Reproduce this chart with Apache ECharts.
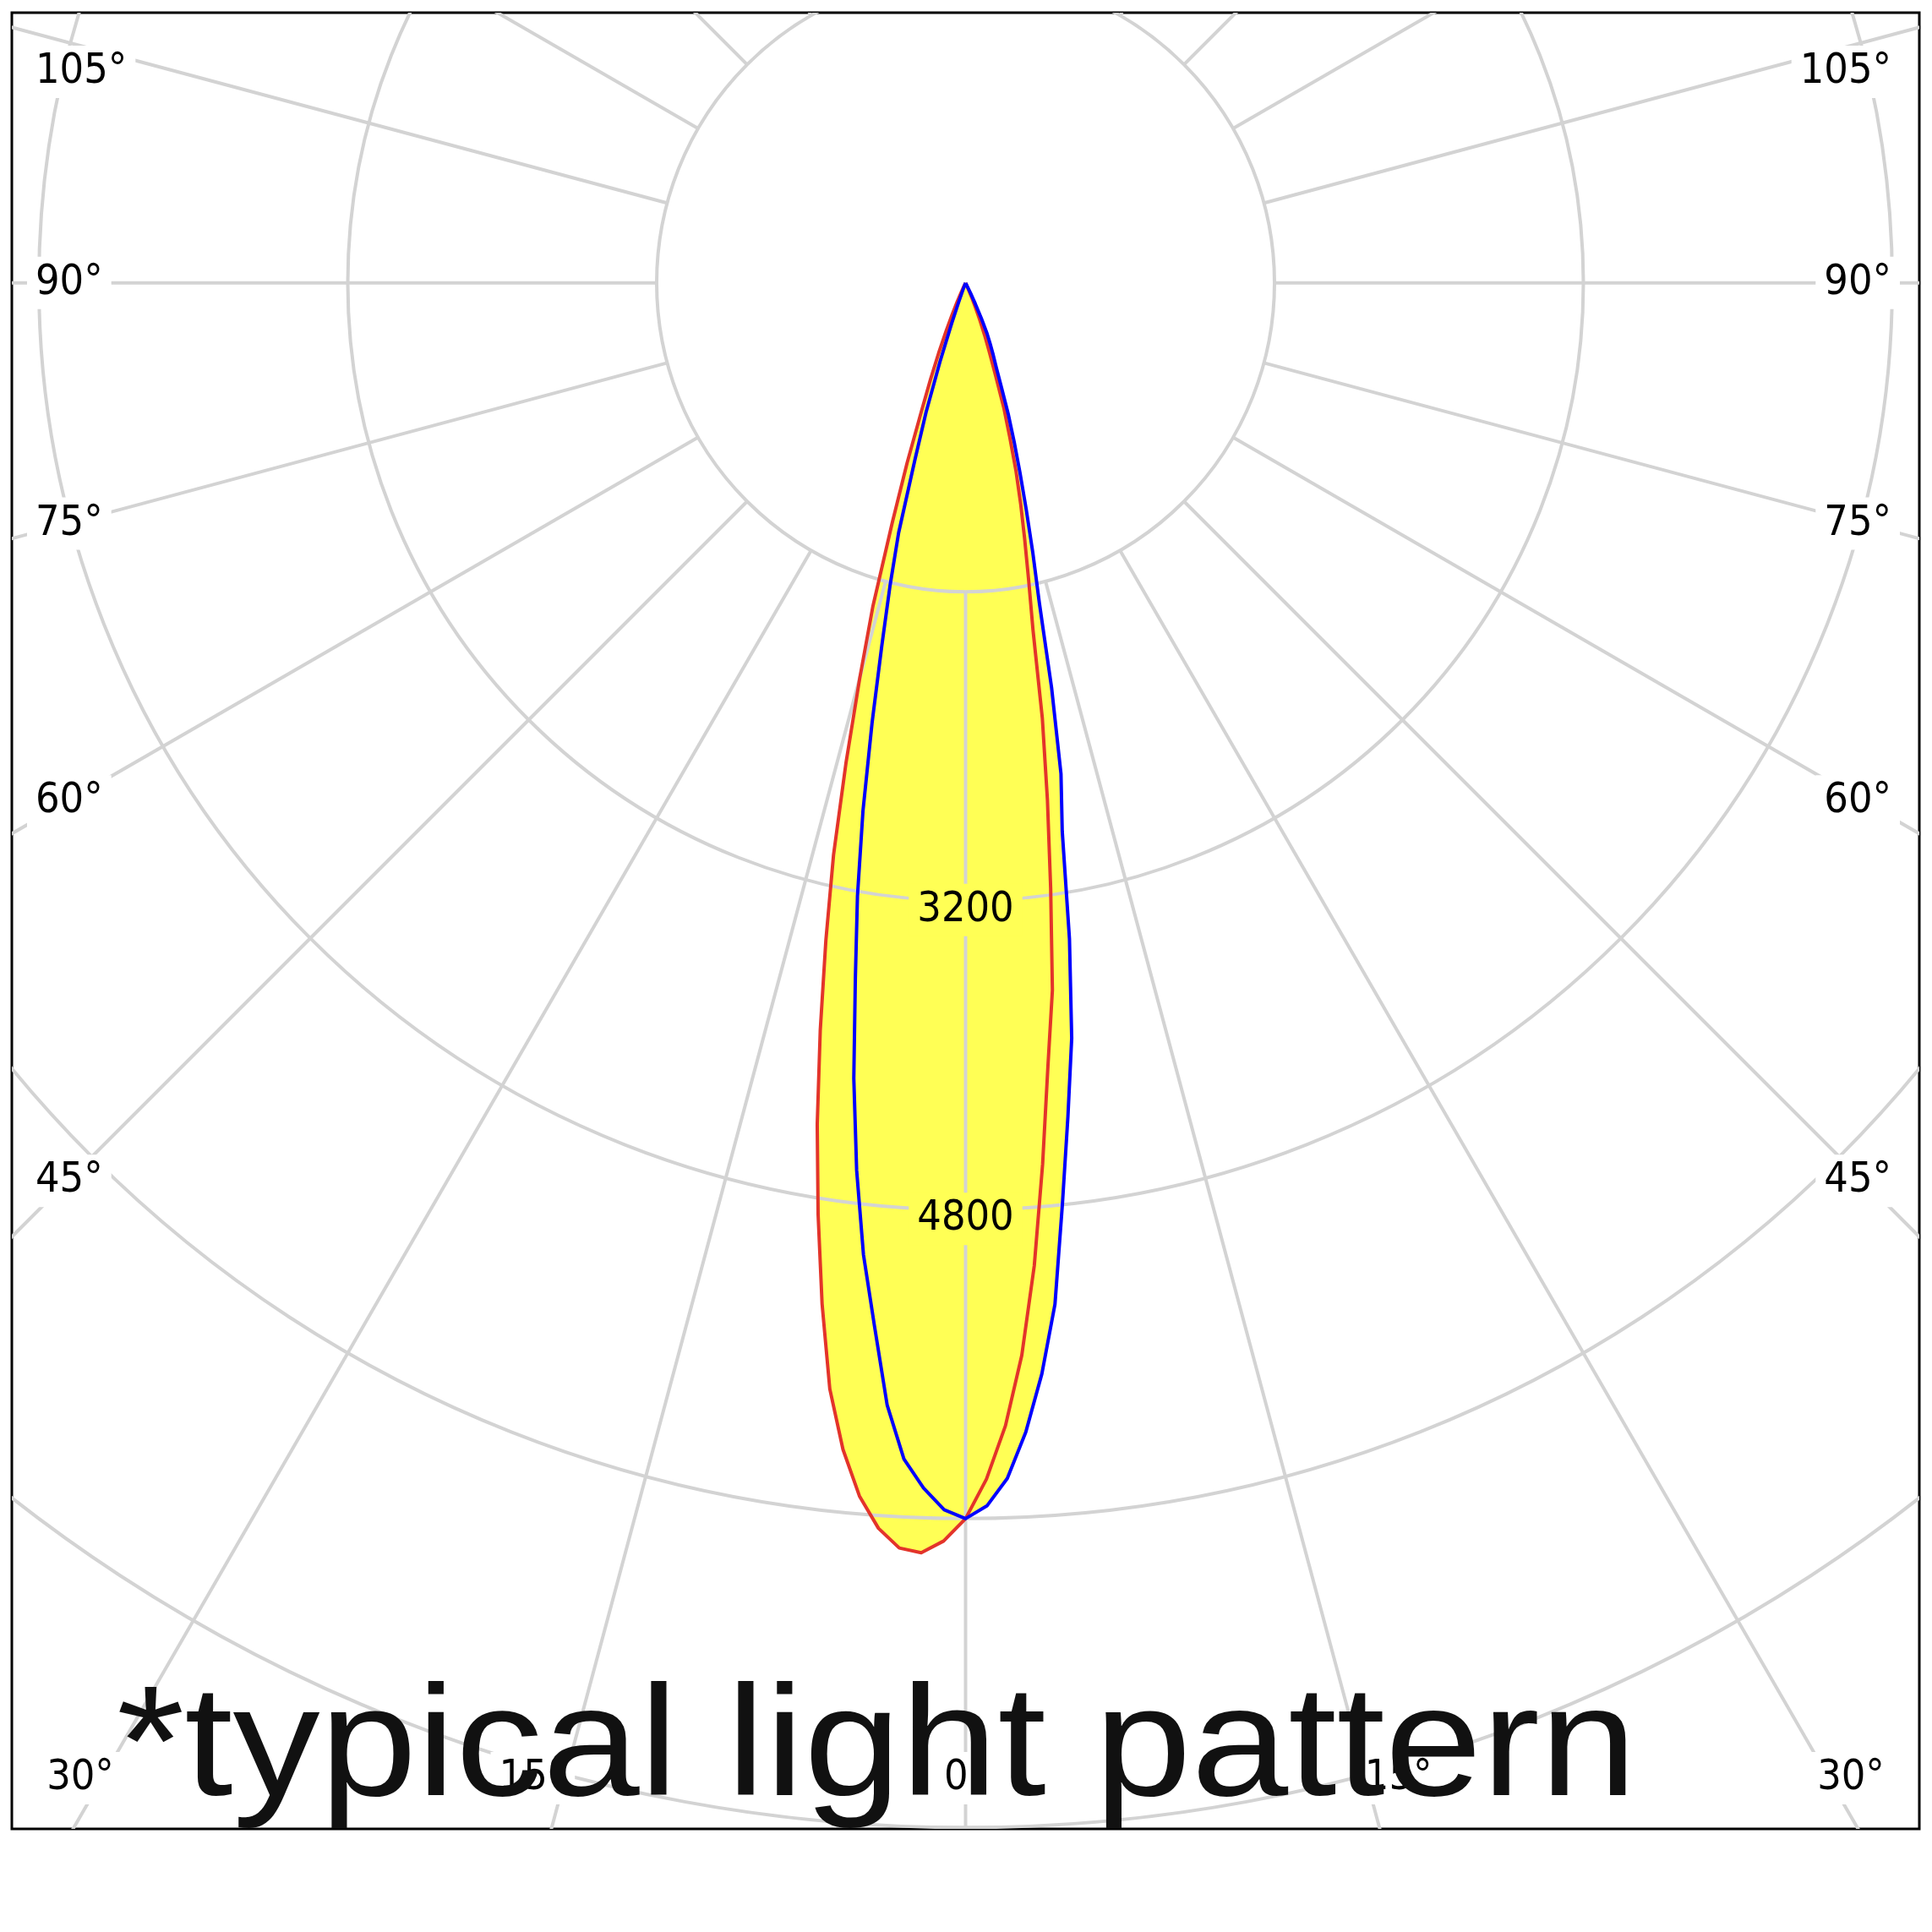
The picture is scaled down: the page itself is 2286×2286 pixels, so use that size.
<!DOCTYPE html>
<html>
<head>
<meta charset="utf-8">
<script src="https://cdn.jsdelivr.net/npm/echarts@6/dist/echarts.min.js"></script>
<style>
    html, body { margin: 0; padding: 0; background: #fff; }
    #chart { width: 2286px; height: 2286px; }
</style>
</head>
<body>
<div id="chart"></div>
<script>
    // gamma angle in degrees, 0 = straight down, negative = left half
    var gammas = [-30, -29, -28, -27, -26, -25, -24, -23, -22, -21, -20, -19, -18, -17, -16, -15, -14, -13, -12, -11,
        -10, -9, -8, -7, -6, -5, -4, -3, -2, -1, 0, 1, 2, 3, 4, 5, 6, 7, 8, 9,
        10, 11, 12, 13, 14, 15, 16, 17, 18, 19, 20, 21, 22, 23, 24, 25, 26, 27, 28, 29, 30]
    // luminous intensity (cd), red plane
    var redCd = [0, 0, 0, 10, 30, 60, 110, 180, 270, 390, 530, 700, 980, 1300, 1740, 2116, 2558, 3040, 3480, 3945,
        4425, 4883, 5340, 5771, 6075, 6307, 6466, 6561, 6581, 6517, 6400, 6196, 5922, 5562, 5102, 4580, 4080, 3690, 3167, 2710,
        2290, 1830, 1570, 1360, 1180, 1010, 830, 680, 500, 380, 290, 210, 140, 80, 40, 10, 0, 0, 0, 0, 0]
    // luminous intensity (cd), blue plane
    var blueCd = [0, 0, 0, 0, 0, 0, 0, 0, 0, 40, 100, 220, 430, 700, 950, 1340, 1620, 1930, 2330, 2785,
        3225, 3650, 4160, 4630, 5060, 5420, 5825, 6100, 6245, 6355, 6400, 6335, 6195, 5960, 5664, 5311, 4798, 4350, 3950, 3440,
        2883, 2590, 2143, 1696, 1439, 1213, 1023, 861, 718, 567, 463, 400, 340, 285, 200, 120, 60, 0, 0, 0, 0]

    var ringValues = [1600, 3200, 4800, 6400, 8000, 9600]
    var ringLabels = [3200, 4800]
    var rayAngles = [0, 15, 30, 45, 60, 75, 90, 105, 120, 135, 150, 165, 180, 195, 210, 225, 240, 255, 270, 285, 300, 315, 330, 345]
    var angleLabels = [105, 90, 75, 60, 45, 30, 15]
    var note = '*typical light pattern'

    var FILL = '#ffff55'
    var GRIDLINE = '#d3d3d3'
    var RED = '#e3342a'
    var BLUE = '#0000ff'
    var LABEL_FONT = '50px "DejaVu Sans Condensed", "DejaVu Sans", sans-serif'

    function toXY(gamma, cd) {
        var a = gamma * Math.PI / 180
        return [cd * Math.sin(a), -cd * Math.cos(a)]
    }

    function curvePoints(api, values) {
        return gammas.map(function (g, i) {
            return api.coord(toXY(g, values[i]))
        })
    }

    // label items: [angle, side]  side -1 left, 1 right, 0 bottom centre
    var labelItems = [[0, 0]]
    angleLabels.forEach(function (a) {
        labelItems.push([a, -1])
        labelItems.push([a, 1])
    })

    var chart = echarts.init(document.getElementById('chart'))

    var option = {
        animation: false,
        backgroundColor: '#fff',
        grid: {
            left: 14,
            top: 15,
            right: 15,
            bottom: 122,
            show: true,
            borderColor: '#000',
            borderWidth: 3,
            backgroundColor: '#fff'
        },
        xAxis: { type: 'value', min: -4940, max: 4940, show: false },
        yAxis: { type: 'value', min: -8007, max: 1400, show: false },
        graphic: [{
            type: 'text',
            x: 138,
            y: 2073,
            scaleX: 1.108,
            z: 100,
            style: {
                text: note,
                font: '186px "Liberation Sans", Arial, sans-serif',
                fill: '#111',
                verticalAlign: 'middle'
            }
        }],
        series: [{
            // yellow area = union of both planes
            type: 'custom',
            z: 1,
            data: [[0, 0], [1, 0]],
            renderItem: function (params, api) {
                var vals = params.dataIndex === 0 ? redCd : blueCd
                return {
                    type: 'polygon',
                    shape: { points: curvePoints(api, vals) },
                    style: { fill: FILL, stroke: FILL, lineWidth: 1 }
                }
            }
        }, {
            // rings
            type: 'custom',
            z: 2,
            clip: true,
            data: ringValues.map(function (v) { return [0, -v] }),
            renderItem: function (params, api) {
                var c = api.coord([0, 0])
                var r = api.size([ringValues[params.dataIndex], 0])[0]
                return {
                    type: 'circle',
                    shape: { cx: c[0], cy: c[1], r: r },
                    style: { fill: 'none', stroke: GRIDLINE, lineWidth: 4 }
                }
            }
        }, {
            // rays, starting at the first ring
            type: 'custom',
            z: 2,
            clip: true,
            data: rayAngles.map(function (a) { return [a, 0] }),
            renderItem: function (params, api) {
                var a = rayAngles[params.dataIndex]
                var p1 = api.coord(toXY(a, ringValues[0]))
                var p2 = api.coord(toXY(a, 11000))
                return {
                    type: 'line',
                    shape: { x1: p1[0], y1: p1[1], x2: p2[0], y2: p2[1] },
                    style: { stroke: GRIDLINE, lineWidth: 4 }
                }
            }
        }, {
            type: 'custom',
            z: 3,
            data: [[0, 0], [1, 0]],
            renderItem: function (params, api) {
                var isRed = params.dataIndex === 0
                return {
                    type: 'polyline',
                    shape: { points: curvePoints(api, isRed ? redCd : blueCd) },
                    style: { fill: 'none', stroke: isRed ? RED : BLUE, lineWidth: 4, lineJoin: 'round' }
                }
            }
        }, {
            // intensity labels on the 0° ray
            type: 'custom',
            z: 4,
            data: ringLabels.map(function (v) { return [0, -v] }),
            renderItem: function (params, api) {
                var v = ringLabels[params.dataIndex]
                var p = api.coord([0, -v])
                return {
                    type: 'text',
                    x: p[0],
                    y: p[1] + 11,
                    style: {
                        text: String(v),
                        font: LABEL_FONT,
                        fill: '#000',
                        align: 'center',
                        verticalAlign: 'middle',
                        backgroundColor: FILL,
                        padding: [6, 10]
                    }
                }
            }
        }, {
            // angle labels along the frame
            type: 'custom',
            z: 4,
            data: labelItems,
            renderItem: function (params, api) {
                var item = labelItems[params.dataIndex]
                var a = item[0], side = item[1]
                var cs = params.coordSys
                var c = api.coord([0, 0])
                var rad = a * Math.PI / 180
                var bottomY = cs.y + cs.height - 60
                var sideX = side < 0 ? cs.x + 66 : cs.x + cs.width - 66
                var y = a === 0 ? Infinity : c[1] + Math.abs(sideX - c[0]) / Math.tan(rad)
                var x, align
                if (y > bottomY) {
                    x = c[0] + side * ((cs.y + cs.height - c[1]) * Math.tan(rad) + 22)
                    x = Math.min(Math.max(x, cs.x + 81), cs.x + cs.width - 81)
                    y = bottomY
                    align = 'center'
                } else {
                    y = Math.max(y, cs.y + 70)
                    x = side < 0 ? cs.x + 18 : cs.x + cs.width - 23
                    align = side < 0 ? 'left' : 'right'
                }
                return {
                    type: 'text',
                    x: x,
                    y: y,
                    style: {
                        text: a + '°',
                        font: LABEL_FONT,
                        fill: '#000',
                        align: align,
                        verticalAlign: 'middle',
                        backgroundColor: '#fff',
                        padding: [6, 10]
                    }
                }
            }
        }]
    }

    chart.setOption(option)
</script>
</body>
</html>
